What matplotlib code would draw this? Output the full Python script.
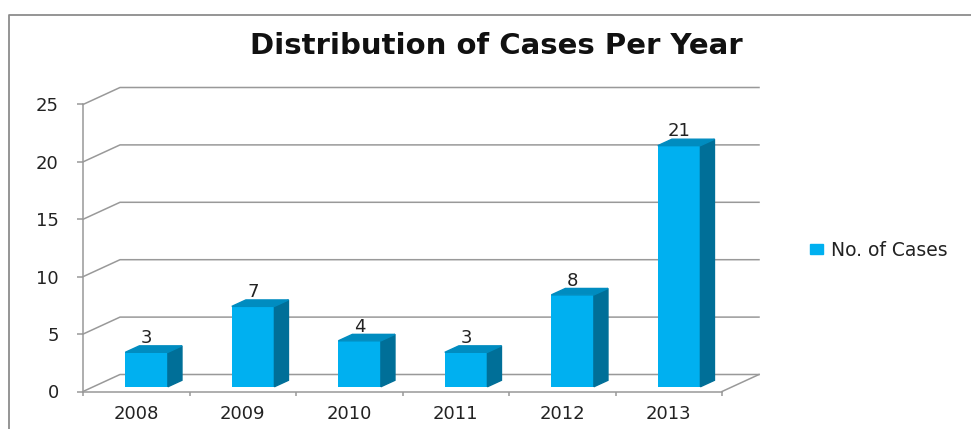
import matplotlib.pyplot as plt
from matplotlib.patches import Polygon
from matplotlib.lines import Line2D

years = ["2008", "2009", "2010", "2011", "2012", "2013"]
cases = [3, 7, 4, 3, 8, 21]
y_ticks = [0, 5, 10, 15, 20, 25]
series_name = "No. of Cases"

W, H = 971, 429
fig = plt.figure(figsize=(W / 100, H / 100), dpi=100)

# pixel frame of the front plane (x: category units, y: value units)
px_x0, px_ux = 83, 106.5
px_y0, px_uy = 391.5, 11.48
al, ar, at, ab = 20, 800, 60, 425
ax = fig.add_axes([al / W, 1 - ab / H, (ar - al) / W, (ab - at) / H])
ax.set_xlim((al - px_x0) / px_ux, (ar - px_x0) / px_ux)
ax.set_ylim((px_y0 - ab) / px_uy, (px_y0 - at) / px_uy)

# 3d depth of the plot box, in data units
DX, DY = 37 / px_ux, 17 / px_uy
BW = 0.40           # bar width
F0, FD = 0.28, 0.38  # bar start / depth as fraction of box depth

gray = "#999999"
txt = "#222222"
front_c, side_c, top_c = "#00b0f0", "#006f98", "#008cc0"
n = len(years)

for v in y_ticks:
    ax.plot([0, DX, n + DX], [v, v + DY, v + DY], color=gray, lw=1.1, zorder=1)
ax.plot([n, n + DX], [0, DY], color=gray, lw=1.1, zorder=1)

for i, v in enumerate(cases):
    xl = i + 0.5 - BW / 2 + F0 * DX
    xr = xl + BW
    yb = F0 * DY
    yt = yb + v
    dx, dy = FD * DX, FD * DY
    ax.bar(xl, v, width=BW, bottom=yb, align="edge", color=front_c, zorder=3)
    ax.add_patch(Polygon([(xr, yb), (xr + dx, yb + dy), (xr + dx, yt + dy), (xr, yt)],
                         closed=True, color=side_c, zorder=3))
    ax.add_patch(Polygon([(xl, yt), (xl + dx, yt + dy), (xr + dx, yt + dy), (xr, yt)],
                         closed=True, color=top_c, zorder=3))
    ax.annotate(str(v), (xl + BW / 2, yt + dy), xytext=(0, 2), textcoords="offset points",
                ha="center", va="baseline", fontsize=13, color=txt)

# axes
for s in ["top", "right"]:
    ax.spines[s].set_visible(False)
ax.spines["left"].set_position(("data", 0))
ax.spines["left"].set_bounds(0, 25)
ax.spines["bottom"].set_position(("data", 0))
ax.spines["bottom"].set_bounds(0, n)
for s in ["left", "bottom"]:
    ax.spines[s].set_color(gray)
    ax.spines[s].set_linewidth(1.1)
ax.set_yticks(y_ticks)
ax.tick_params(axis="y", direction="out", length=4.5, width=1.1, color=gray,
               pad=13, labelsize=13, labelcolor=txt)
ax.set_xticks(range(n + 1))
ax.set_xticklabels([])
ax.set_xticks([i + 0.5 for i in range(n)], minor=True)
ax.set_xticklabels(years, minor=True)
ax.tick_params(axis="x", which="major", direction="out", length=3, width=1.1, color=gray)
ax.tick_params(axis="x", which="minor", length=0, pad=9.5, labelsize=13, labelcolor=txt)

fig.text(496 / W, 1 - 46 / H, "Distribution of Cases Per Year", ha="center", va="center",
         fontsize=21, fontweight="bold", color="#111111")

handle = plt.Rectangle((0, 0), 1, 1, color=front_c)
fig.legend([handle], [series_name], loc="center left", bbox_to_anchor=(810 / W, 1 - 250 / H),
           bbox_transform=fig.transFigure, frameon=False, fontsize=13.5, borderpad=0,
           borderaxespad=0, handlelength=0.68, handleheight=0.41, handletextpad=0.45,
           labelcolor=txt)

# chart area border
fig.add_artist(Line2D([9 / W, 9 / W, 1.01], [-0.01, 1 - 15 / H, 1 - 15 / H],
                      transform=fig.transFigure, color="#8c8c8c", lw=1.3))

fig.savefig("out.png", dpi=100)
